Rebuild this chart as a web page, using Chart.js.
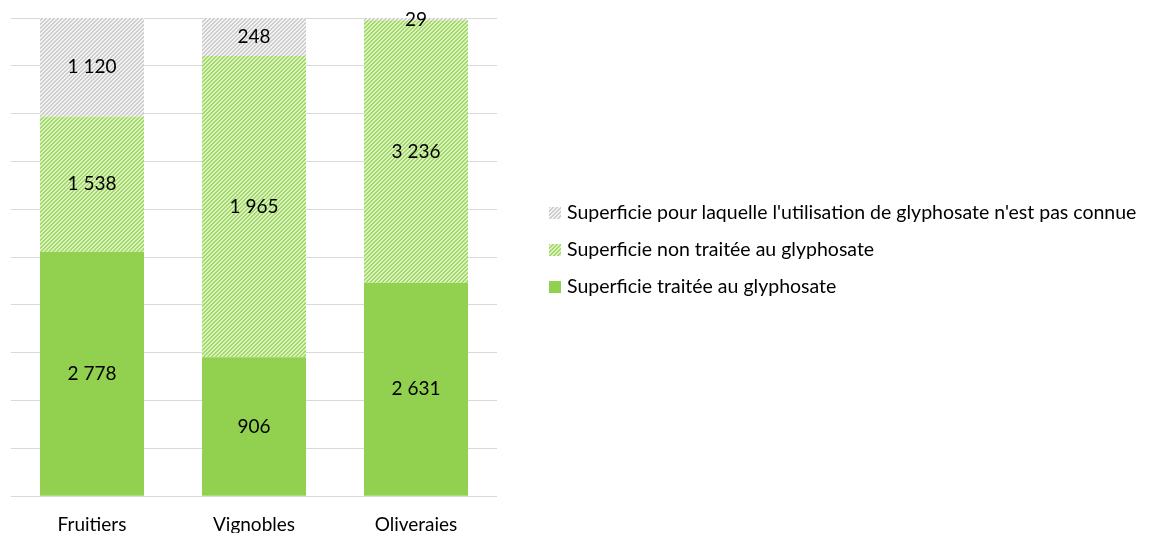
<!DOCTYPE html>
<html>
<head>
<meta charset="utf-8">
<script src="https://cdn.jsdelivr.net/npm/chart.js@4/dist/chart.umd.min.js"></script>
<style>
  body { margin: 0; background: #fff; }
  #wrap { position: relative; width: 1152px; height: 533px; }
  #legende { position: absolute; left: 549px; top: 198px; font-family: Lato, sans-serif; font-size: 19.5px; color: #000; }
  .item { height: 37px; line-height: 28px; white-space: nowrap; }
  .case { display: inline-block; width: 12px; height: 12px; margin-right: 6px; vertical-align: 0px; }
</style>
</head>
<body>
<div id="wrap">
  <canvas id="myChart" width="1152" height="533"></canvas>
  <div id="legende"></div>
</div>
<script>
var categories = ['Fruitiers', 'Vignobles', 'Oliveraies'];
var traitee = [2778, 906, 2631];
var nonTraitee = [1538, 1965, 3236];
var inconnue = [1120, 248, 29];
var nomsSeries = [
    "Superficie traitée au glyphosate",
    "Superficie non traitée au glyphosate",
    "Superficie pour laquelle l'utilisation de glyphosate n'est pas connue"
];

// petits motifs hachurés comme dans Excel
function motif(fond, trait) {
    var c = document.createElement('canvas');
    c.width = 4; c.height = 4;
    var g = c.getContext('2d');
    g.fillStyle = fond;
    g.fillRect(0, 0, 4, 4);
    g.fillStyle = trait;
    for (let i = 0; i < 4; i++) {
        g.fillRect((3 - i), i, 1, 1);
        g.fillRect((4 - i) % 4, i, 1, 1);
    }
    return c;
}

var ctx = document.getElementById('myChart').getContext('2d');
var motifGris = motif('#f3f3f3', '#cdcdcd');
var motifVert = motif('#dcf2c2', '#a3d968');
var couleurs = ['#92d050', ctx.createPattern(motifVert, 'repeat'), ctx.createPattern(motifGris, 'repeat')];
var series = [traitee, nonTraitee, inconnue];

var totaux = categories.map(function (c, i) { return traitee[i] + nonTraitee[i] + inconnue[i]; });
function pourcent(arr) {
    return arr.map(function (v, i) { return v / totaux[i] * 100; });
}

function formate(v) {
    return String(v).replace(/\B(?=(\d{3})+(?!\d))/g, ' ');
}

var etiquettes = {
    id: 'etiquettes',
    afterDatasetsDraw: function (chart) {
        var c = chart.ctx;
        c.save();
        c.font = '19px Lato';
        c.fillStyle = '#000';
        c.textAlign = 'center';
        c.textBaseline = 'middle';
        chart.data.datasets.forEach(function (ds, d) {
            chart.getDatasetMeta(d).data.forEach(function (bar, i) {
                var y = (bar.y + bar.base) / 2;
                if (series[d][i] < 100) y = bar.y + 2;
                c.fillText(formate(series[d][i]), bar.x, y);
            });
        });
        c.restore();
    }
};

var myChart = new Chart(ctx, {
    type: 'bar',
    data: {
        labels: categories,
        datasets: series.map(function (s, d) {
            return {
                label: nomsSeries[d],
                data: pourcent(s),
                backgroundColor: couleurs[d],
                borderWidth: 0
            };
        })
    },
    options: {
        responsive: false,
        animation: false,
        layout: {
            padding: {left: 11, right: 655, top: 18, bottom: -20}
        },
        categoryPercentage: 1,
        barPercentage: 0.642,
        scales: {
            x: {
                stacked: true,
                grid: {display: false, drawTicks: false},
                border: {display: false},
                ticks: {
                    color: '#000',
                    font: {family: 'Lato', size: 19},
                    padding: 17
                }
            },
            y: {
                stacked: true,
                min: 0,
                max: 100,
                grid: {color: '#d9d9d9', drawTicks: false},
                border: {display: false},
                ticks: {display: false, stepSize: 10}
            }
        },
        plugins: {
            legend: {display: false},
            tooltip: {enabled: false}
        }
    },
    plugins: [etiquettes]
});

// légende à droite, dans l'ordre inverse comme l'original
var leg = document.getElementById('legende');
[2, 1, 0].forEach(function (d) {
    var item = document.createElement('div');
    item.className = 'item';
    var cas = document.createElement('span');
    cas.className = 'case';
    if (d === 0) cas.style.background = '#92d050';
    else cas.style.backgroundImage = 'url(' + (d === 1 ? motifVert : motifGris).toDataURL() + ')';
    item.appendChild(cas);
    item.appendChild(document.createTextNode(nomsSeries[d]));
    leg.appendChild(item);
});
</script>
</body>
</html>
